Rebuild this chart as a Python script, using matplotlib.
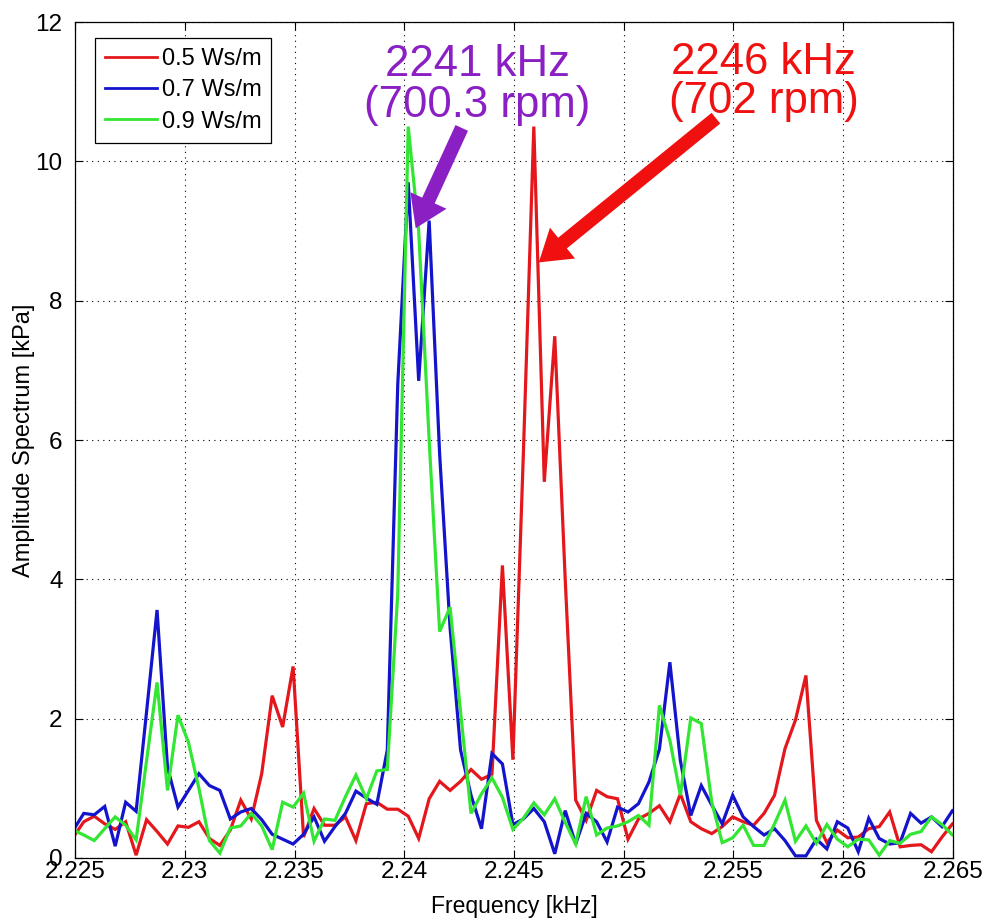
import numpy as np
import matplotlib
matplotlib.use("Agg")
import matplotlib.pyplot as plt

# frequency bins (kHz): FFT grid, first bin and spacing
freq_start = 2.224922
freq_step = 0.000476837
n_bins = 86

red_05 = [0.30, 0.52, 0.60, 0.49, 0.41, 0.52, 0.04, 0.55, 0.38, 0.20,
          0.46, 0.44, 0.52, 0.28, 0.18, 0.40, 0.83, 0.56, 1.21, 2.33,
          1.88, 2.75, 0.30, 0.71, 0.47, 0.47, 0.59, 0.25, 0.78, 0.80,
          0.70, 0.70, 0.60, 0.28, 0.85, 1.10, 0.97, 1.10, 1.27, 1.13,
          1.20, 4.20, 1.41, 5.80, 10.50, 5.40, 7.49, 4.00, 0.83, 0.54,
          0.97, 0.88, 0.85, 0.27, 0.56, 0.64, 0.75, 0.52, 0.92, 0.52,
          0.42, 0.35, 0.45, 0.59, 0.52, 0.47, 0.64, 0.90, 1.57, 1.98,
          2.62, 0.54, 0.22, 0.40, 0.29, 0.30, 0.42, 0.45, 0.66, 0.16,
          0.18, 0.19, 0.09, 0.30, 0.49, 0.60]

blue_07 = [0.40, 0.64, 0.62, 0.74, 0.17, 0.80, 0.67, 2.10, 3.56, 1.30,
           0.73, 0.97, 1.21, 1.04, 0.97, 0.56, 0.66, 0.71, 0.55, 0.34,
           0.27, 0.20, 0.34, 0.59, 0.24, 0.45, 0.64, 0.96, 0.86, 0.77,
           1.55, 6.80, 9.70, 6.85, 9.15, 5.80, 3.30, 1.55, 0.90, 0.42,
           1.50, 1.35, 0.48, 0.56, 0.71, 0.52, 0.06, 0.68, 0.20, 0.64,
           0.52, 0.23, 0.73, 0.66, 0.78, 1.09, 1.56, 2.81, 1.40, 0.61,
           1.04, 0.76, 0.49, 0.90, 0.59, 0.45, 0.33, 0.42, 0.25, 0.03,
           0.03, 0.27, 0.13, 0.52, 0.43, 0.09, 0.57, 0.28, 0.20, 0.22,
           0.64, 0.50, 0.59, 0.45, 0.68, 0.75]

green_09 = [0.40, 0.33, 0.25, 0.42, 0.59, 0.47, 0.26, 1.40, 2.52, 0.97,
            2.05, 1.66, 1.00, 0.25, 0.07, 0.43, 0.46, 0.64, 0.46, 0.12,
            0.80, 0.73, 0.93, 0.24, 0.56, 0.54, 0.88, 1.19, 0.85, 1.25,
            1.27, 3.80, 10.50, 9.00, 6.00, 3.25, 3.60, 2.10, 0.64, 0.92,
            1.15, 0.87, 0.41, 0.57, 0.79, 0.62, 0.85, 0.51, 0.20, 0.88,
            0.33, 0.43, 0.46, 0.52, 0.61, 0.47, 2.19, 1.69, 0.90, 2.01,
            1.93, 0.80, 0.22, 0.29, 0.47, 0.18, 0.18, 0.49, 0.83, 0.24,
            0.46, 0.21, 0.48, 0.27, 0.16, 0.27, 0.26, 0.04, 0.25, 0.21,
            0.34, 0.38, 0.59, 0.48, 0.33, 0.30]

series_labels = ["0.5 Ws/m", "0.7 Ws/m", "0.9 Ws/m"]
series_colors = ["#e3171c", "#1414cc", "#33e633"]

x_ticks = [2.225, 2.23, 2.235, 2.24, 2.245, 2.25, 2.255, 2.26, 2.265]
x_ticklabels = ["2.225", "2.23", "2.235", "2.24", "2.245", "2.25", "2.255", "2.26", "2.265"]
y_ticks = [0, 2, 4, 6, 8, 10, 12]

freq = freq_start + freq_step * np.arange(n_bins)

plt.rcParams['font.family'] = ['Liberation Sans', 'DejaVu Sans']

fig = plt.figure(figsize=(9.86, 9.19), dpi=100)
ax = fig.add_axes([0.0761, 0.0664, 0.8904, 0.9096])

for ys, lab, col in zip([red_05, blue_07, green_09], series_labels, series_colors):
    ax.plot(freq, ys, color=col, lw=2.3, label=lab, solid_joinstyle='miter')

ax.set_xlim(2.225, 2.265)
ax.set_ylim(0, 12)
ax.set_xticks(x_ticks)
ax.set_xticklabels(x_ticklabels)
ax.set_yticks(y_ticks)
ax.tick_params(direction='in', top=True, right=True, labelsize=17.5, length=6, width=0.8)
ax.tick_params(axis='x', pad=2)
ax.tick_params(axis='y', pad=9)
ax.grid(True, color='black', linestyle=(0, (1, 4)), linewidth=0.8)
for s in ax.spines.values():
    s.set_linewidth(0.9)

ax.set_xlabel("Frequency [kHz]", fontsize=16.5, labelpad=9)
ax.set_ylabel("Amplitude Spectrum [kPa]", fontsize=17, labelpad=0)

leg = ax.legend(loc='upper left', bbox_to_anchor=(0.0228, 0.981), fontsize=17,
                frameon=True, fancybox=False, edgecolor='black', framealpha=1,
                handlelength=2.2, handletextpad=0.2, borderpad=0.42, labelspacing=0.4,
                borderaxespad=0)
leg.get_frame().set_linewidth(0.9)
for line in leg.get_lines():
    line.set_linewidth(2.0)

purple = "#8a1fc4"
red_txt = "#f01010"
ax.text(2.24332, 11.22, "2241 kHz", color=purple, fontsize=31.5, ha='center', va='baseline')
ax.text(2.24332, 10.64, "(700.3 rpm)", color=purple, fontsize=31.5, ha='center', va='baseline')
ax.text(2.25638, 11.25, "2246 kHz", color=red_txt, fontsize=31.5, ha='center', va='baseline')
ax.text(2.25638, 10.69, "(702 rpm)", color=red_txt, fontsize=31.5, ha='center', va='baseline')

ax.annotate("", xy=(2.24052, 9.04), xytext=(2.24262, 10.48),
            arrowprops=dict(arrowstyle="simple,head_width=1.3,head_length=1.0,tail_width=0.45",
                            mutation_scale=22, color=purple, lw=0, shrinkA=0, shrinkB=0))
ax.annotate("", xy=(2.24613, 8.55), xytext=(2.25420, 10.62),
            arrowprops=dict(arrowstyle="simple,head_width=1.3,head_length=1.0,tail_width=0.45",
                            mutation_scale=22, color=red_txt, lw=0, shrinkA=0, shrinkB=0))

fig.savefig("out.png", dpi=100)
